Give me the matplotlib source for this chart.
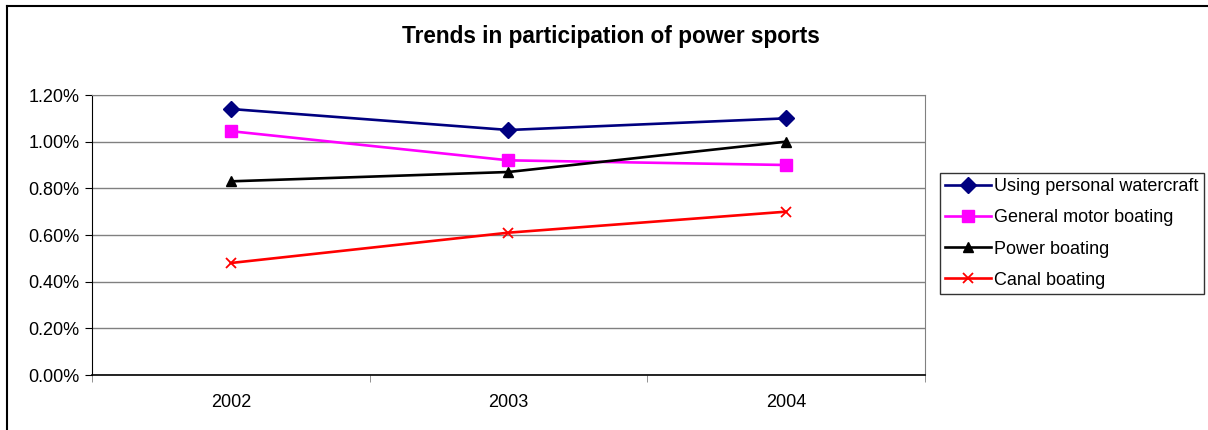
import matplotlib.pyplot as plt
from matplotlib.lines import Line2D
from matplotlib.ticker import FuncFormatter, FixedLocator

plt.rcParams['font.family'] = ['Liberation Sans', 'DejaVu Sans']

years = ['2002', '2003', '2004']
watercraft = [1.14, 1.05, 1.10]
motor_boating = [1.045, 0.92, 0.90]
power_boating = [0.83, 0.87, 1.00]
canal_boating = [0.48, 0.61, 0.70]

series = [
    ('Using personal watercraft', watercraft, '#000080', 'D', 8.5),
    ('General motor boating', motor_boating, '#FF00FF', 's', 8.5),
    ('Power boating', power_boating, 'black', '^', 7.5),
    ('Canal boating', canal_boating, '#FF0000', 'x', 7.5),
]

W, H = 1208, 430
fig = plt.figure(figsize=(W / 100, H / 100), dpi=100)
ax = fig.add_axes([92 / W, 1 - 375 / H, 833 / W, 280 / H])

xs = list(range(len(years)))
for name, vals, col, mk, ms in series:
    ax.plot(xs, vals, color=col, lw=1.9, marker=mk, ms=ms,
            mec=col, mfc=col, mew=1.3 if mk == 'x' else 1, label=name)

ax.set_xlim(-0.5, 2.5)
ax.set_ylim(0, 1.2)
ax.set_yticks([0, 0.2, 0.4, 0.6, 0.8, 1.0, 1.2])
ax.yaxis.set_major_formatter(FuncFormatter(lambda v, p: f'{v:.2f}%'))
ax.yaxis.grid(True, color='#808080', lw=1)
ax.set_axisbelow(True)

ax.set_xticks(xs)
ax.set_xticklabels(years)
ax.xaxis.set_minor_locator(FixedLocator([-0.5, 0.5, 1.5, 2.5]))
ax.tick_params(axis='x', which='major', length=0, pad=14, labelsize=13)
ax.tick_params(axis='x', which='minor', length=5, direction='out', color='#808080')
ax.tick_params(axis='y', length=5, direction='out', labelsize=13, pad=4)

ax.spines['left'].set_color('black')
ax.spines['bottom'].set_color('black')
ax.spines['bottom'].set_linewidth(1.2)
ax.spines['top'].set_color('#808080')
ax.spines['right'].set_color('#808080')

fig.text(611 / W, 1 - 37 / H, 'Trends in participation of power sports',
         ha='center', va='center', fontsize=16.3, fontweight='bold')

leg = fig.legend(loc='upper left', bbox_to_anchor=(940 / W, 1 - 173 / H),
                 fontsize=13, frameon=True, fancybox=False, edgecolor='black',
                 handlelength=2.5, handletextpad=0.2, borderpad=0.3,
                 labelspacing=0.78, borderaxespad=0)
leg.get_frame().set_linewidth(1)

# outer chart border (top and left only visible)
fig.add_artist(Line2D([7.5 / W, 1], [1 - 5.5 / H, 1 - 5.5 / H],
                      transform=fig.transFigure, color='black', lw=1.5))
fig.add_artist(Line2D([7.5 / W, 7.5 / W], [0, 1 - 5.5 / H],
                      transform=fig.transFigure, color='black', lw=1.5))

fig.savefig('out.png', dpi=100)
